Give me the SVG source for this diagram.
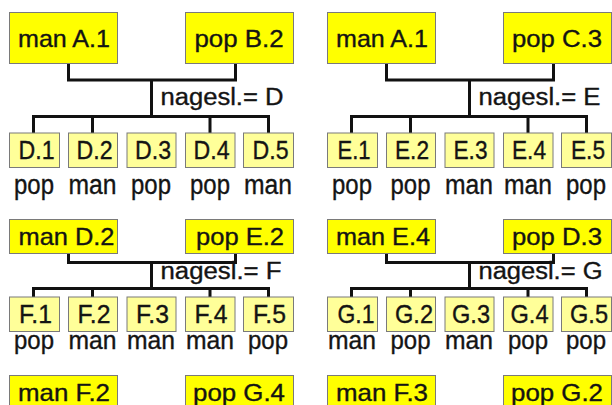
<svg xmlns="http://www.w3.org/2000/svg" width="612" height="405" viewBox="0 0 612 405">
<style>
.par{fill:#ffff00;stroke:#7a7a7a;stroke-width:1}
.chd{fill:#ffff99;stroke:#7a7a7a;stroke-width:1}
text{font-family:"Liberation Sans",Arial,sans-serif;fill:#141414;stroke:#141414;stroke-width:0.35;text-anchor:middle}
.pt{font-size:24px}
.ct{font-size:25.5px}
.ut{font-size:27px}
.ut2{font-size:25.5px}
.nt{font-size:23px;text-anchor:start}
.ln{fill:none;stroke:#111;stroke-width:3;stroke-linejoin:miter;stroke-linecap:square}
</style>
<rect width="612" height="405" fill="#ffffff"/>

<g id="connectors">
  <path class="ln" d="M68.5,64 V80 H235.5 V64 M151.5,80 V116.5 M33.5,133 V116.5 H268.5 V133 M92.5,116.5 V133 M210,116.5 V133"/>
  <path class="ln" d="M386.5,64 V80 H553.5 V64 M469.5,80 V116.5 M351.5,133 V116.5 H586.5 V133 M410.5,116.5 V133 M528,116.5 V133"/>
  <path class="ln" d="M68.5,254 V262.5 H235.5 V254 M151.5,262.5 V288.5 M33.5,297 V288.5 H268.5 V297 M92.5,288.5 V297 M210,288.5 V297"/>
  <path class="ln" d="M386.5,254 V262.5 H553.5 V254 M469.5,262.5 V288.5 M351.5,297 V288.5 H586.5 V297 M410.5,288.5 V297 M528,288.5 V297"/>
</g>

<text class="nt" x="160.5" y="105" textLength="123" lengthAdjust="spacingAndGlyphs">nagesl.= D</text>
<text class="nt" x="478.5" y="105" textLength="122" lengthAdjust="spacingAndGlyphs">nagesl.= E</text>
<text class="nt" x="160.5" y="278.5" textLength="121" lengthAdjust="spacingAndGlyphs">nagesl.= F</text>
<text class="nt" x="478.5" y="278.5" textLength="124" lengthAdjust="spacingAndGlyphs">nagesl.= G</text>

<g id="p1-manA1"><rect class="par" x="9.5" y="12.5" width="108" height="51"/><text class="pt" x="64" y="47" textLength="92" lengthAdjust="spacingAndGlyphs">man A.1</text></g>
<g id="p1-popB2"><rect class="par" x="185.5" y="12.5" width="108" height="51"/><text class="pt" x="239" y="47" textLength="89" lengthAdjust="spacingAndGlyphs">pop B.2</text></g>
<g id="p1-D1"><rect class="chd" x="9.5" y="133" width="50" height="34.5"/><text class="ct" x="36.5" y="159" textLength="36" lengthAdjust="spacingAndGlyphs">D.1</text><text class="ut" x="34" y="193.5" textLength="40" lengthAdjust="spacingAndGlyphs">pop</text></g>
<g id="p1-D2"><rect class="chd" x="68.5" y="133" width="49" height="34.5"/><text class="ct" x="94.5" y="159" textLength="36" lengthAdjust="spacingAndGlyphs">D.2</text><text class="ut" x="92.5" y="193.5" textLength="48" lengthAdjust="spacingAndGlyphs">man</text></g>
<g id="p1-D3"><rect class="chd" x="127" y="133" width="49" height="34.5"/><text class="ct" x="153" y="159" textLength="36" lengthAdjust="spacingAndGlyphs">D.3</text><text class="ut" x="151" y="193.5" textLength="40" lengthAdjust="spacingAndGlyphs">pop</text></g>
<g id="p1-D4"><rect class="chd" x="185.5" y="133" width="49.5" height="34.5"/><text class="ct" x="211.5" y="159" textLength="36" lengthAdjust="spacingAndGlyphs">D.4</text><text class="ut" x="210" y="193.5" textLength="40" lengthAdjust="spacingAndGlyphs">pop</text></g>
<g id="p1-D5"><rect class="chd" x="243.5" y="133" width="50" height="34.5"/><text class="ct" x="270.5" y="159" textLength="36" lengthAdjust="spacingAndGlyphs">D.5</text><text class="ut" x="268" y="193.5" textLength="48" lengthAdjust="spacingAndGlyphs">man</text></g>

<g id="p2-manA1"><rect class="par" x="327.5" y="12.5" width="108" height="51"/><text class="pt" x="382" y="47" textLength="92" lengthAdjust="spacingAndGlyphs">man A.1</text></g>
<g id="p2-popC3"><rect class="par" x="503.5" y="12.5" width="108" height="51"/><text class="pt" x="557" y="47" textLength="90" lengthAdjust="spacingAndGlyphs">pop C.3</text></g>
<g id="p2-E1"><rect class="chd" x="327.5" y="133" width="50" height="34.5"/><text class="ct" x="354" y="159" textLength="33" lengthAdjust="spacingAndGlyphs">E.1</text><text class="ut" x="352" y="193.5" textLength="40" lengthAdjust="spacingAndGlyphs">pop</text></g>
<g id="p2-E2"><rect class="chd" x="386.5" y="133" width="49" height="34.5"/><text class="ct" x="412" y="159" textLength="34" lengthAdjust="spacingAndGlyphs">E.2</text><text class="ut" x="410.5" y="193.5" textLength="40" lengthAdjust="spacingAndGlyphs">pop</text></g>
<g id="p2-E3"><rect class="chd" x="445" y="133" width="49" height="34.5"/><text class="ct" x="470.5" y="159" textLength="34" lengthAdjust="spacingAndGlyphs">E.3</text><text class="ut" x="469" y="193.5" textLength="48" lengthAdjust="spacingAndGlyphs">man</text></g>
<g id="p2-E4"><rect class="chd" x="503.5" y="133" width="49.5" height="34.5"/><text class="ct" x="529" y="159" textLength="34" lengthAdjust="spacingAndGlyphs">E.4</text><text class="ut" x="528" y="193.5" textLength="48" lengthAdjust="spacingAndGlyphs">man</text></g>
<g id="p2-E5"><rect class="chd" x="561.5" y="133" width="50" height="34.5"/><text class="ct" x="588" y="159" textLength="34" lengthAdjust="spacingAndGlyphs">E.5</text><text class="ut" x="586" y="193.5" textLength="40" lengthAdjust="spacingAndGlyphs">pop</text></g>

<g id="p3-manD2"><rect class="par" x="9.5" y="219.5" width="108" height="34"/><text class="pt" x="66.5" y="245" textLength="96" lengthAdjust="spacingAndGlyphs">man D.2</text></g>
<g id="p3-popE2"><rect class="par" x="185.5" y="219.5" width="108" height="34"/><text class="pt" x="240" y="245" textLength="88" lengthAdjust="spacingAndGlyphs">pop E.2</text></g>
<g id="p3-F1"><rect class="chd" x="9.5" y="297" width="50" height="34.5"/><text class="ct" x="35.5" y="322.5" textLength="33" lengthAdjust="spacingAndGlyphs">F.1</text><text class="ut2" x="34" y="348.5" textLength="40" lengthAdjust="spacingAndGlyphs">pop</text></g>
<g id="p3-F2"><rect class="chd" x="68.5" y="297" width="49" height="34.5"/><text class="ct" x="94" y="322.5" textLength="33" lengthAdjust="spacingAndGlyphs">F.2</text><text class="ut2" x="92.5" y="348.5" textLength="48" lengthAdjust="spacingAndGlyphs">man</text></g>
<g id="p3-F3"><rect class="chd" x="127" y="297" width="49" height="34.5"/><text class="ct" x="152.5" y="322.5" textLength="33" lengthAdjust="spacingAndGlyphs">F.3</text><text class="ut2" x="151" y="348.5" textLength="48" lengthAdjust="spacingAndGlyphs">man</text></g>
<g id="p3-F4"><rect class="chd" x="185.5" y="297" width="49.5" height="34.5"/><text class="ct" x="211" y="322.5" textLength="33" lengthAdjust="spacingAndGlyphs">F.4</text><text class="ut2" x="210" y="348.5" textLength="48" lengthAdjust="spacingAndGlyphs">man</text></g>
<g id="p3-F5"><rect class="chd" x="243.5" y="297" width="50" height="34.5"/><text class="ct" x="269.5" y="322.5" textLength="33" lengthAdjust="spacingAndGlyphs">F.5</text><text class="ut2" x="268" y="348.5" textLength="40" lengthAdjust="spacingAndGlyphs">pop</text></g>

<g id="p4-manE4"><rect class="par" x="327.5" y="219.5" width="108" height="34"/><text class="pt" x="383" y="245" textLength="94" lengthAdjust="spacingAndGlyphs">man E.4</text></g>
<g id="p4-popD3"><rect class="par" x="503.5" y="219.5" width="108" height="34"/><text class="pt" x="557" y="245" textLength="90" lengthAdjust="spacingAndGlyphs">pop D.3</text></g>
<g id="p4-G1"><rect class="chd" x="327.5" y="297" width="50" height="34.5"/><text class="ct" x="356" y="322.5" textLength="37" lengthAdjust="spacingAndGlyphs">G.1</text><text class="ut2" x="352" y="348.5" textLength="48" lengthAdjust="spacingAndGlyphs">man</text></g>
<g id="p4-G2"><rect class="chd" x="386.5" y="297" width="49" height="34.5"/><text class="ct" x="414" y="322.5" textLength="38" lengthAdjust="spacingAndGlyphs">G.2</text><text class="ut2" x="410.5" y="348.5" textLength="40" lengthAdjust="spacingAndGlyphs">pop</text></g>
<g id="p4-G3"><rect class="chd" x="445" y="297" width="49" height="34.5"/><text class="ct" x="471" y="322.5" textLength="38" lengthAdjust="spacingAndGlyphs">G.3</text><text class="ut2" x="469" y="348.5" textLength="48" lengthAdjust="spacingAndGlyphs">man</text></g>
<g id="p4-G4"><rect class="chd" x="503.5" y="297" width="49.5" height="34.5"/><text class="ct" x="529.5" y="322.5" textLength="38" lengthAdjust="spacingAndGlyphs">G.4</text><text class="ut2" x="528" y="348.5" textLength="40" lengthAdjust="spacingAndGlyphs">pop</text></g>
<g id="p4-G5"><rect class="chd" x="561.5" y="297" width="50" height="34.5"/><text class="ct" x="589" y="322.5" textLength="38" lengthAdjust="spacingAndGlyphs">G.5</text><text class="ut2" x="586" y="348.5" textLength="40" lengthAdjust="spacingAndGlyphs">pop</text></g>

<g id="p5-manF2"><rect class="par" x="9.5" y="375.5" width="108" height="40"/><text class="pt" x="64" y="401" textLength="92" lengthAdjust="spacingAndGlyphs">man F.2</text></g>
<g id="p5-popG4"><rect class="par" x="185.5" y="375.5" width="108" height="40"/><text class="pt" x="239" y="401" textLength="92" lengthAdjust="spacingAndGlyphs">pop G.4</text></g>
<g id="p6-manF3"><rect class="par" x="327.5" y="375.5" width="108" height="40"/><text class="pt" x="382" y="401" textLength="92" lengthAdjust="spacingAndGlyphs">man F.3</text></g>
<g id="p6-popG2"><rect class="par" x="503.5" y="375.5" width="108" height="40"/><text class="pt" x="557" y="401" textLength="92" lengthAdjust="spacingAndGlyphs">pop G.2</text></g>
</svg>
